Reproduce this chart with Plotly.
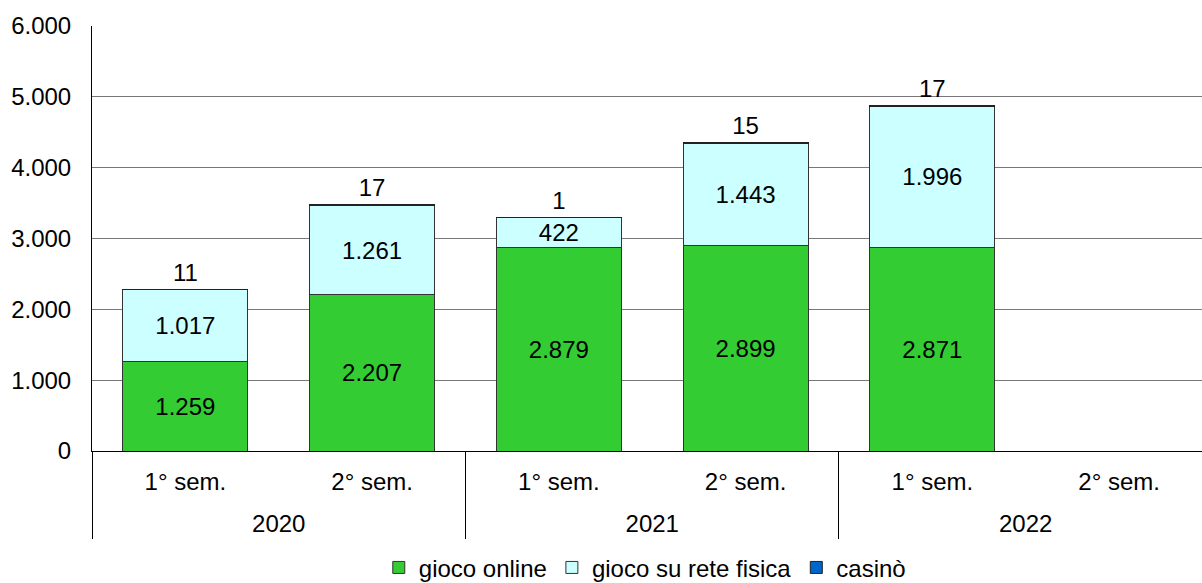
import plotly.graph_objects as go

years = ["2020", "2020", "2021", "2021", "2022", "2022"]
semesters = ["1° sem.", "2° sem.", "1° sem.", "2° sem.", "1° sem.", "2° sem."]
gioco_online = [1259, 2207, 2879, 2899, 2871, None]
rete_fisica = [1017, 1261, 422, 1443, 1996, None]
casino = [11, 17, 1, 15, 17, None]

FONT = "Liberation Sans, Arial, sans-serif"
FS = 24
cats = [f"{y} {s}" for y, s in zip(years, semesters)]
n = len(cats)

# year groups derived from the category list
year_labels = list(dict.fromkeys(years))
year_centers = [sum(i for i, y in enumerate(years) if y == yl) / years.count(yl)
                for yl in year_labels]

XRANGE = [-0.5, n - 0.556]

fig = go.Figure()
common = dict(textposition="inside", insidetextanchor="middle", textangle=0,
              constraintext="none", texttemplate="%{y:,d}",
              textfont=dict(size=FS, color="black", family=FONT))
fig.add_trace(go.Bar(x=cats, y=gioco_online, name="gioco online",
                     marker=dict(color="#33CC33", line=dict(color="#333333", width=1)),
                     **common))
fig.add_trace(go.Bar(x=cats, y=rete_fisica, name="gioco su rete fisica",
                     marker=dict(color="#CCFFFF", line=dict(color="#333333", width=1)),
                     **common))
fig.add_trace(go.Bar(x=cats, y=casino, name="casinò",
                     marker=dict(color="#0066CC", line=dict(color="#222222", width=1)),
                     textposition="outside", texttemplate="%{y:,d}", textangle=0,
                     constraintext="none", cliponaxis=False,
                     outsidetextfont=dict(size=FS, color="black", family=FONT)))
# invisible helper trace so the year-level axis is drawn
fig.add_trace(go.Scatter(x=year_centers, y=[None] * len(year_centers), xaxis="x2",
                         mode="markers", showlegend=False, hoverinfo="skip"))

fig.update_layout(
    barmode="stack",
    bargap=0.33,
    separators=",.",
    width=1202, height=583,
    margin=dict(l=92, r=0, t=26, b=132, autoexpand=False),
    paper_bgcolor="white", plot_bgcolor="white",
    font=dict(family=FONT, size=FS, color="black"),
    legend=dict(orientation="h", x=0.498, xanchor="center", y=-0.222, yanchor="top",
                font=dict(size=FS), itemwidth=30, traceorder="normal"),
    xaxis=dict(type="category", categoryorder="array", categoryarray=cats,
               range=XRANGE, tickmode="array", tickvals=cats, ticktext=semesters,
               showline=True, linecolor="black", linewidth=1, ticks="",
               automargin=False, ticklabelstandoff=9, tickfont=dict(size=FS)),
    xaxis2=dict(overlaying="x", side="bottom", anchor="y", type="linear",
                range=XRANGE, tickmode="array",
                tickvals=year_centers, ticktext=year_labels,
                ticks="", showgrid=False, zeroline=False, showline=False,
                automargin=False, ticklabelstandoff=56, tickfont=dict(size=FS),
                minor=dict(tickmode="linear", tick0=-0.5, dtick=2, ticks="outside",
                           ticklen=87, tickwidth=1, tickcolor="black", showgrid=False)),
)
fig.update_yaxes(range=[0, 6000], dtick=1000, tickformat=",d", automargin=False,
                 showgrid=True, gridcolor="#777777", gridwidth=1,
                 showline=True, linecolor="black", linewidth=1,
                 zeroline=True, zerolinecolor="black", zerolinewidth=1,
                 ticks="", ticklabelstandoff=15, tickfont=dict(size=FS))

fig.write_html("out.html", config={"displayModeBar": False},
               post_script="document.body.style.margin='0';")
